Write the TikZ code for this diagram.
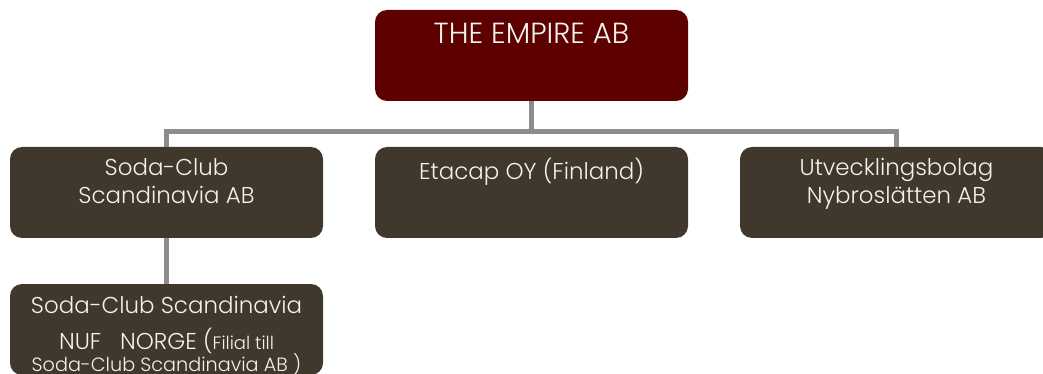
\documentclass[tikz,border=0pt]{standalone}
\usepackage{fontspec}
\setmainfont{Poppins Light}
\usetikzlibrary{positioning}
\definecolor{empirered}{RGB}{92,0,0}
\definecolor{boxbrown}{RGB}{64,55,45}
\definecolor{linegray}{RGB}{140,140,140}
\definecolor{txtwhite}{RGB}{244,242,238}
\tikzset{
  orgbox/.style={draw=none, fill=boxbrown, rounded corners=9pt, minimum width=234.75pt, minimum height=68.25pt, inner sep=0pt},
  topbox/.style={orgbox, fill=empirered},
  orgtext/.style={text=txtwhite, align=center, inner sep=0pt, anchor=north, font=\fontsize{17.2}{21}\selectfont},
  link/.style={draw=linegray, line width=4pt}
}
\begin{document}
\begin{tikzpicture}[x=0.75pt,y=0.75pt,yscale=-1,xscale=1]
	\useasboundingbox (0,0) rectangle (1043,374);
	\clip (0,0) rectangle (1043,374);
	
	%Shape: Rounded Rect
	\node[topbox] (empire) at (531.5,55.5) {};
	%Shape: Rounded Rect
	\node[orgbox] (soda) at (166.5,192.5) {};
	%Shape: Rounded Rect
	\node[orgbox] (etacap) at (531.5,192.5) {};
	%Shape: Rounded Rect
	\node[orgbox] (utv) at (896.5,192.5) {};
	%Shape: Rounded Rect
	\node[orgbox] (norge) at (166.5,329.5) {};
	
	%Connectors
	\draw[link] (empire.south) -- ++(0,30) coordinate (bus);
	\draw[link] (soda.north) |- (bus) -| (utv.north);
	\draw[link] (soda.south) -- (norge.north);
	
	% Text Node
	\node[orgtext, font=\fontsize{21.8}{26}\selectfont] (empire-t) at (531.5,23) {THE EMPIRE AB};
	% Text Node
	\node[orgtext] (soda-t) at (166.5,158) {Soda-Club\\Scandinavia AB};
	% Text Node
	\node[orgtext] (etacap-t) at (531.5,158) {Etacap OY (Finland)};
	% Text Node
	\node[orgtext] (utv-t) at (896.5,158) {Utvecklingsbolag\\Nybroslätten AB};
	% Text Node
	\node[orgtext] (norge-t) at (166.5,296) {Soda-Club Scandinavia\\[6pt]NUF\ \ \ NORGE ({\fontsize{13.5}{21}\selectfont Filial till}\\[-4.5pt]{\fontsize{14.4}{21}\selectfont Soda-Club Scandinavia AB )}};
	
\end{tikzpicture}
\end{document}
